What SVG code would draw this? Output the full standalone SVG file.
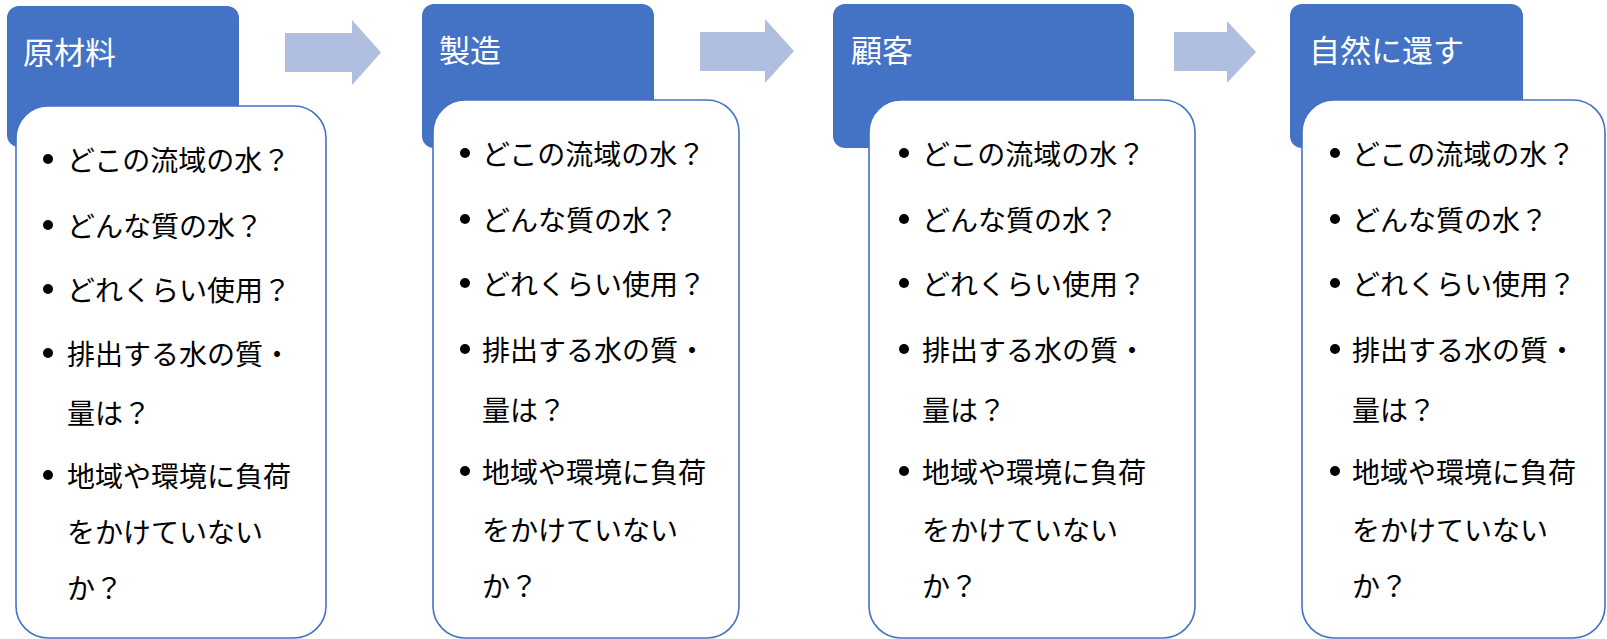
<svg xmlns="http://www.w3.org/2000/svg" width="1607" height="639" viewBox="0 0 1607 639">
<style>
.hd{fill:#4472C4}
.bd{fill:#FFFFFF;stroke:#4472C4;stroke-width:1.6}
.ar{fill:#B0BEDF}
.ht{font-family:"Noto Sans CJK JP","Noto Sans",sans-serif;font-size:31px;fill:#FFFFFF;dominant-baseline:central}
.bt{font-family:"Noto Sans CJK JP","Noto Sans",sans-serif;font-size:28px;fill:#000000;dominant-baseline:central}
.bl{fill:#000000}
</style>
<rect width="1607" height="639" fill="#FFFFFF"/>
<g id="connectors">
<polygon class="ar" points="285,33 352,33 352,20 381,52.5 352,85 352,72 285,72"/>
<polygon class="ar" points="700,32 765,32 765,19 794,51 765,83 765,71 700,71"/>
<polygon class="ar" points="1174,32 1227,32 1227,21 1256,52 1227,83 1227,71 1174,71"/>
</g>
<g id="node1">
<rect class="hd" x="7" y="6" width="232" height="141" rx="12"/>
<text class="ht" x="23" y="50">原材料</text>
<rect class="bd" x="16" y="106" width="310" height="532" rx="32"/>
<circle class="bl" cx="48" cy="159" r="5"/><text class="bt" x="67" y="159">どこの流域の水？</text>
<circle class="bl" cx="48" cy="225" r="5"/><text class="bt" x="67" y="225">どんな質の水？</text>
<circle class="bl" cx="48" cy="289" r="5"/><text class="bt" x="67" y="289">どれくらい使用？</text>
<circle class="bl" cx="48" cy="353" r="5"/><text class="bt" x="67" y="353">排出する水の質・</text>
<text class="bt" x="67" y="412">量は？</text>
<circle class="bl" cx="48" cy="475" r="5"/><text class="bt" x="67" y="475">地域や環境に負荷</text>
<text class="bt" x="67" y="531">をかけていない</text>
<text class="bt" x="67" y="587">か？</text>
</g>
<g id="node2">
<rect class="hd" x="422" y="4" width="232" height="144" rx="12"/>
<text class="ht" x="439" y="48">製造</text>
<rect class="bd" x="433" y="100" width="306" height="538" rx="32"/>
<circle class="bl" cx="465" cy="153" r="5"/><text class="bt" x="482" y="153">どこの流域の水？</text>
<circle class="bl" cx="465" cy="219" r="5"/><text class="bt" x="482" y="219">どんな質の水？</text>
<circle class="bl" cx="465" cy="283" r="5"/><text class="bt" x="482" y="283">どれくらい使用？</text>
<circle class="bl" cx="465" cy="349" r="5"/><text class="bt" x="482" y="349">排出する水の質・</text>
<text class="bt" x="482" y="409">量は？</text>
<circle class="bl" cx="465" cy="471" r="5"/><text class="bt" x="482" y="471">地域や環境に負荷</text>
<text class="bt" x="482" y="529">をかけていない</text>
<text class="bt" x="482" y="585">か？</text>
</g>
<g id="node3">
<rect class="hd" x="833" y="4" width="301" height="144" rx="12"/>
<text class="ht" x="851" y="48">顧客</text>
<rect class="bd" x="869" y="100" width="326" height="538" rx="32"/>
<circle class="bl" cx="904" cy="153" r="5"/><text class="bt" x="922" y="153">どこの流域の水？</text>
<circle class="bl" cx="904" cy="219" r="5"/><text class="bt" x="922" y="219">どんな質の水？</text>
<circle class="bl" cx="904" cy="283" r="5"/><text class="bt" x="922" y="283">どれくらい使用？</text>
<circle class="bl" cx="904" cy="349" r="5"/><text class="bt" x="922" y="349">排出する水の質・</text>
<text class="bt" x="922" y="409">量は？</text>
<circle class="bl" cx="904" cy="471" r="5"/><text class="bt" x="922" y="471">地域や環境に負荷</text>
<text class="bt" x="922" y="529">をかけていない</text>
<text class="bt" x="922" y="585">か？</text>
</g>
<g id="node4">
<rect class="hd" x="1290" y="4" width="233" height="144" rx="12"/>
<text class="ht" x="1309" y="48">自然に還す</text>
<rect class="bd" x="1302" y="100" width="303" height="538" rx="32"/>
<circle class="bl" cx="1335" cy="153" r="5"/><text class="bt" x="1352" y="153">どこの流域の水？</text>
<circle class="bl" cx="1335" cy="219" r="5"/><text class="bt" x="1352" y="219">どんな質の水？</text>
<circle class="bl" cx="1335" cy="283" r="5"/><text class="bt" x="1352" y="283">どれくらい使用？</text>
<circle class="bl" cx="1335" cy="349" r="5"/><text class="bt" x="1352" y="349">排出する水の質・</text>
<text class="bt" x="1352" y="409">量は？</text>
<circle class="bl" cx="1335" cy="471" r="5"/><text class="bt" x="1352" y="471">地域や環境に負荷</text>
<text class="bt" x="1352" y="529">をかけていない</text>
<text class="bt" x="1352" y="585">か？</text>
</g>
</svg>
